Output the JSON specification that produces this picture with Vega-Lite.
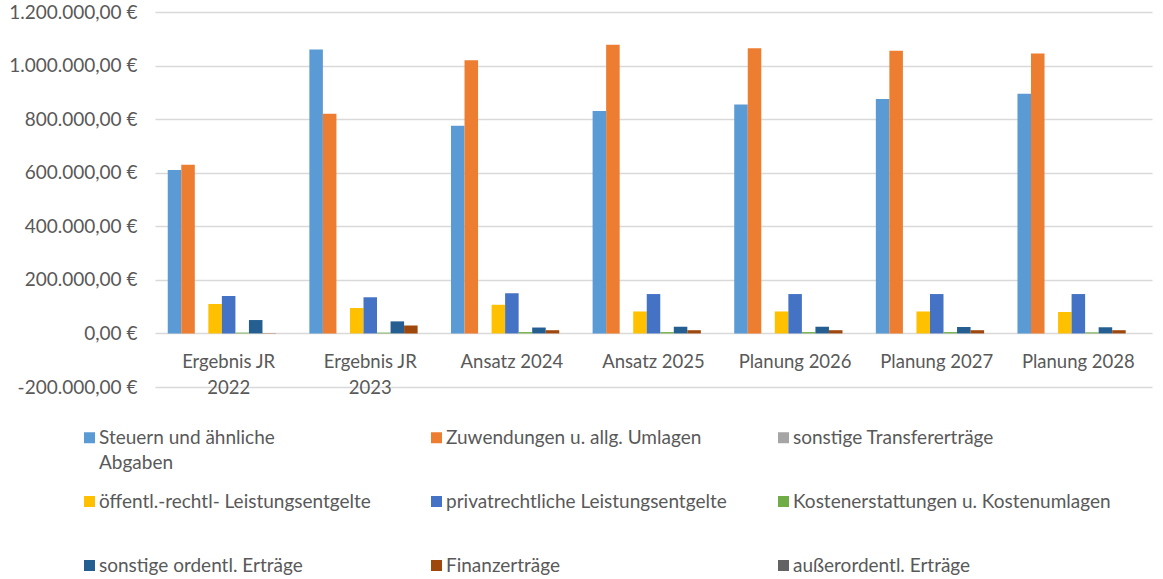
{
  "$schema": "https://vega.github.io/schema/vega-lite/v6.json",
  "autosize": "none",
  "width": 997,
  "height": 375,
  "padding": {"left": 155, "top": 12, "right": 11, "bottom": 192},
  "background": "white",
  "config": {
    "view": {"stroke": null},
    "font": "Lato",
    "locale": {
      "number": {"decimal": ",", "thousands": ".", "grouping": [3], "currency": ["", " €"], "minus": "-"}
    }
  },
  "data": {
    "values": [
      {"Jahr": "Ergebnis JR 2022", "Art": "Steuern und ähnliche Abgaben", "Betrag": 610000},
      {"Jahr": "Ergebnis JR 2022", "Art": "Zuwendungen u. allg. Umlagen", "Betrag": 630000},
      {"Jahr": "Ergebnis JR 2022", "Art": "sonstige Transfererträge", "Betrag": 0},
      {"Jahr": "Ergebnis JR 2022", "Art": "öffentl.-rechtl- Leistungsentgelte", "Betrag": 110000},
      {"Jahr": "Ergebnis JR 2022", "Art": "privatrechtliche Leistungsentgelte", "Betrag": 140000},
      {"Jahr": "Ergebnis JR 2022", "Art": "Kostenerstattungen u. Kostenumlagen", "Betrag": 3000},
      {"Jahr": "Ergebnis JR 2022", "Art": "sonstige ordentl. Erträge", "Betrag": 50000},
      {"Jahr": "Ergebnis JR 2022", "Art": "Finanzerträge", "Betrag": 1000},
      {"Jahr": "Ergebnis JR 2022", "Art": "außerordentl. Erträge", "Betrag": 0},

      {"Jahr": "Ergebnis JR 2023", "Art": "Steuern und ähnliche Abgaben", "Betrag": 1060000},
      {"Jahr": "Ergebnis JR 2023", "Art": "Zuwendungen u. allg. Umlagen", "Betrag": 820000},
      {"Jahr": "Ergebnis JR 2023", "Art": "sonstige Transfererträge", "Betrag": 0},
      {"Jahr": "Ergebnis JR 2023", "Art": "öffentl.-rechtl- Leistungsentgelte", "Betrag": 95000},
      {"Jahr": "Ergebnis JR 2023", "Art": "privatrechtliche Leistungsentgelte", "Betrag": 135000},
      {"Jahr": "Ergebnis JR 2023", "Art": "Kostenerstattungen u. Kostenumlagen", "Betrag": 3000},
      {"Jahr": "Ergebnis JR 2023", "Art": "sonstige ordentl. Erträge", "Betrag": 45000},
      {"Jahr": "Ergebnis JR 2023", "Art": "Finanzerträge", "Betrag": 30000},
      {"Jahr": "Ergebnis JR 2023", "Art": "außerordentl. Erträge", "Betrag": 0},

      {"Jahr": "Ansatz 2024", "Art": "Steuern und ähnliche Abgaben", "Betrag": 775000},
      {"Jahr": "Ansatz 2024", "Art": "Zuwendungen u. allg. Umlagen", "Betrag": 1020000},
      {"Jahr": "Ansatz 2024", "Art": "sonstige Transfererträge", "Betrag": 0},
      {"Jahr": "Ansatz 2024", "Art": "öffentl.-rechtl- Leistungsentgelte", "Betrag": 107000},
      {"Jahr": "Ansatz 2024", "Art": "privatrechtliche Leistungsentgelte", "Betrag": 150000},
      {"Jahr": "Ansatz 2024", "Art": "Kostenerstattungen u. Kostenumlagen", "Betrag": 5000},
      {"Jahr": "Ansatz 2024", "Art": "sonstige ordentl. Erträge", "Betrag": 22000},
      {"Jahr": "Ansatz 2024", "Art": "Finanzerträge", "Betrag": 12000},
      {"Jahr": "Ansatz 2024", "Art": "außerordentl. Erträge", "Betrag": 0},

      {"Jahr": "Ansatz 2025", "Art": "Steuern und ähnliche Abgaben", "Betrag": 830000},
      {"Jahr": "Ansatz 2025", "Art": "Zuwendungen u. allg. Umlagen", "Betrag": 1078000},
      {"Jahr": "Ansatz 2025", "Art": "sonstige Transfererträge", "Betrag": 0},
      {"Jahr": "Ansatz 2025", "Art": "öffentl.-rechtl- Leistungsentgelte", "Betrag": 82000},
      {"Jahr": "Ansatz 2025", "Art": "privatrechtliche Leistungsentgelte", "Betrag": 147000},
      {"Jahr": "Ansatz 2025", "Art": "Kostenerstattungen u. Kostenumlagen", "Betrag": 5000},
      {"Jahr": "Ansatz 2025", "Art": "sonstige ordentl. Erträge", "Betrag": 25000},
      {"Jahr": "Ansatz 2025", "Art": "Finanzerträge", "Betrag": 12000},
      {"Jahr": "Ansatz 2025", "Art": "außerordentl. Erträge", "Betrag": 0},

      {"Jahr": "Planung 2026", "Art": "Steuern und ähnliche Abgaben", "Betrag": 855000},
      {"Jahr": "Planung 2026", "Art": "Zuwendungen u. allg. Umlagen", "Betrag": 1065000},
      {"Jahr": "Planung 2026", "Art": "sonstige Transfererträge", "Betrag": 0},
      {"Jahr": "Planung 2026", "Art": "öffentl.-rechtl- Leistungsentgelte", "Betrag": 82000},
      {"Jahr": "Planung 2026", "Art": "privatrechtliche Leistungsentgelte", "Betrag": 147000},
      {"Jahr": "Planung 2026", "Art": "Kostenerstattungen u. Kostenumlagen", "Betrag": 5000},
      {"Jahr": "Planung 2026", "Art": "sonstige ordentl. Erträge", "Betrag": 25000},
      {"Jahr": "Planung 2026", "Art": "Finanzerträge", "Betrag": 12000},
      {"Jahr": "Planung 2026", "Art": "außerordentl. Erträge", "Betrag": 0},

      {"Jahr": "Planung 2027", "Art": "Steuern und ähnliche Abgaben", "Betrag": 875000},
      {"Jahr": "Planung 2027", "Art": "Zuwendungen u. allg. Umlagen", "Betrag": 1055000},
      {"Jahr": "Planung 2027", "Art": "sonstige Transfererträge", "Betrag": 0},
      {"Jahr": "Planung 2027", "Art": "öffentl.-rechtl- Leistungsentgelte", "Betrag": 82000},
      {"Jahr": "Planung 2027", "Art": "privatrechtliche Leistungsentgelte", "Betrag": 147000},
      {"Jahr": "Planung 2027", "Art": "Kostenerstattungen u. Kostenumlagen", "Betrag": 5000},
      {"Jahr": "Planung 2027", "Art": "sonstige ordentl. Erträge", "Betrag": 24000},
      {"Jahr": "Planung 2027", "Art": "Finanzerträge", "Betrag": 12000},
      {"Jahr": "Planung 2027", "Art": "außerordentl. Erträge", "Betrag": 0},

      {"Jahr": "Planung 2028", "Art": "Steuern und ähnliche Abgaben", "Betrag": 895000},
      {"Jahr": "Planung 2028", "Art": "Zuwendungen u. allg. Umlagen", "Betrag": 1045000},
      {"Jahr": "Planung 2028", "Art": "sonstige Transfererträge", "Betrag": 0},
      {"Jahr": "Planung 2028", "Art": "öffentl.-rechtl- Leistungsentgelte", "Betrag": 80000},
      {"Jahr": "Planung 2028", "Art": "privatrechtliche Leistungsentgelte", "Betrag": 147000},
      {"Jahr": "Planung 2028", "Art": "Kostenerstattungen u. Kostenumlagen", "Betrag": 4000},
      {"Jahr": "Planung 2028", "Art": "sonstige ordentl. Erträge", "Betrag": 23000},
      {"Jahr": "Planung 2028", "Art": "Finanzerträge", "Betrag": 12000},
      {"Jahr": "Planung 2028", "Art": "außerordentl. Erträge", "Betrag": 0}
    ]
  },
  "mark": {"type": "bar"},
  "encoding": {
    "x": {
      "field": "Jahr",
      "type": "nominal",
      "sort": null,
      "scale": {"paddingInner": 0.14, "paddingOuter": 0.09},
      "axis": {
        "title": null,
        "orient": "bottom",
        "offset": -36,
        "domain": false,
        "ticks": false,
        "labelAngle": 0,
        "labelPadding": 1,
        "labelFontSize": 18.5,
        "labelColor": "#595959",
        "labelLineHeight": 26,
        "labelExpr": "indexof(datum.label, 'Ergebnis') == 0 ? [slice(datum.label, 0, 11), slice(datum.label, 12)] : datum.label"
      }
    },
    "xOffset": {
      "field": "Art",
      "type": "nominal",
      "sort": null,
      "scale": {"paddingInner": 0, "paddingOuter": 0}
    },
    "y": {
      "field": "Betrag",
      "type": "quantitative",
      "scale": {"domain": [-200000, 1200000], "nice": false},
      "axis": {
        "title": null,
        "domain": false,
        "ticks": false,
        "values": [-200000, 0, 200000, 400000, 600000, 800000, 1000000, 1200000],
        "format": "$,.2f",
        "labelPadding": 18,
        "labelFontSize": 19,
        "labelColor": "#595959",
        "gridColor": "#d9d9d9",
        "gridWidth": 1.5
      }
    },
    "color": {
      "field": "Art",
      "type": "nominal",
      "sort": null,
      "scale": {
        "domain": [
          "Steuern und ähnliche Abgaben",
          "Zuwendungen u. allg. Umlagen",
          "sonstige Transfererträge",
          "öffentl.-rechtl- Leistungsentgelte",
          "privatrechtliche Leistungsentgelte",
          "Kostenerstattungen u. Kostenumlagen",
          "sonstige ordentl. Erträge",
          "Finanzerträge",
          "außerordentl. Erträge"
        ],
        "range": ["#5B9BD5", "#ED7D31", "#A5A5A5", "#FFC000", "#4472C4", "#70AD47", "#255E91", "#9E480E", "#636363"]
      },
      "legend": {
        "title": null,
        "orient": "none",
        "legendX": -75,
        "legendY": 416,
        "direction": "horizontal",
        "columns": 3,
        "gridAlign": "all",
        "symbolType": "square",
        "symbolSize": 121,
        "symbolStrokeWidth": 0,
        "labelFontSize": 19,
        "labelColor": "#595959",
        "labelOffset": 0,
        "labelLimit": 500,
        "rowPadding": 19,
        "columnPadding": 10,
        "labelExpr": "datum.label == 'Steuern und ähnliche Abgaben' ? ['Steuern und ähnliche', 'Abgaben'] : [datum.label, ' ']",
        "encode": {
          "labels": {
            "update": {
              "lineHeight": {"value": 25}
            }
          }
        }
      }
    }
  }
}
